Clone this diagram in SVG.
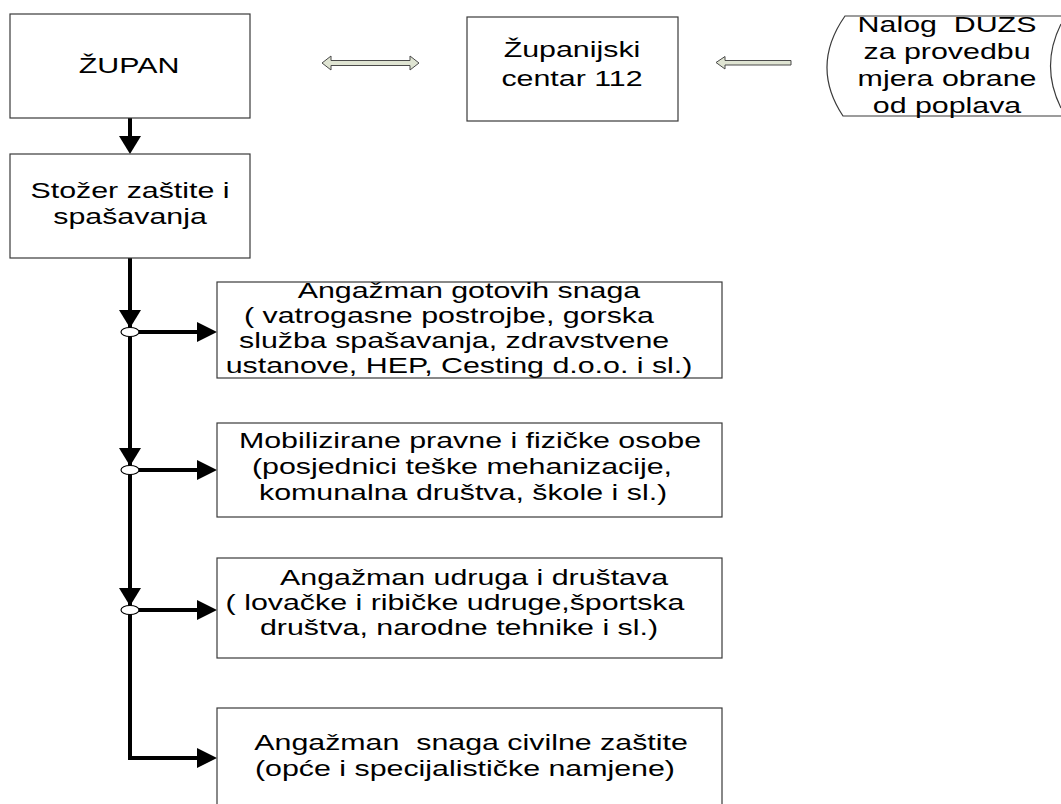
<svg xmlns="http://www.w3.org/2000/svg" width="1061" height="804" viewBox="0 0 1061 804">
<style>
  .box { fill: #ffffff; stroke: #3a3a3a; stroke-width: 1.2; }
  .t { font-family: "Liberation Sans", Arial, sans-serif; font-size: 22px; fill: #000; text-anchor: middle; white-space: pre; }
  .ln { fill: none; stroke: #000; stroke-width: 4; }
  .ah { fill: #000; stroke: none; }
  .jn { fill: #fff; stroke: #000; stroke-width: 1.2; }
  .bar { fill: #dfe4d2; stroke: #4a4a4a; stroke-width: 1; }
  .scroll { fill: none; stroke: #3a3a3a; stroke-width: 1.2; }
</style>
<rect width="1061" height="804" fill="#ffffff"/>

<g id="connectors">
  <line class="ln" x1="130" y1="118" x2="130" y2="138"/>
  <polygon class="ah" points="119,136 141,136 130,154"/>
  <polyline class="ln" points="130,258 130,758 199,758"/>
  <polygon class="ah" points="197,748 197,768 217,758"/>
  <!-- branch 1 -->
  <polygon class="ah" points="119,310 141,310 130,328"/>
  <line class="ln" x1="139" y1="332" x2="199" y2="332"/>
  <polygon class="ah" points="197,322 197,342 217,332"/>
  <ellipse class="jn" cx="130" cy="332" rx="9" ry="4.5"/>
  <!-- branch 2 -->
  <polygon class="ah" points="119,448 141,448 130,466"/>
  <line class="ln" x1="139" y1="470" x2="199" y2="470"/>
  <polygon class="ah" points="197,460 197,480 217,470"/>
  <ellipse class="jn" cx="130" cy="470" rx="9" ry="4.5"/>
  <!-- branch 3 -->
  <polygon class="ah" points="119,588 141,588 130,606"/>
  <line class="ln" x1="139" y1="610" x2="199" y2="610"/>
  <polygon class="ah" points="197,600 197,620 217,610"/>
  <ellipse class="jn" cx="130" cy="610" rx="9" ry="4.5"/>
  <!-- block arrows top -->
  <path class="bar" d="M322,63 L331,56 L331,60.5 L410,60.5 L410,56 L419,63 L410,70 L410,65.5 L331,65.5 L331,70 Z"/>
  <path class="bar" d="M716,62.5 L725,56.5 L725,60.5 L791,60.5 L791,65 L725,65 L725,69 Z"/>
</g>

<g id="zupan">
  <rect class="box" x="10" y="14" width="240" height="104"/>
  <text class="t" transform="translate(129,73) scale(1.38,1)">ŽUPAN</text>
</g>

<g id="centar112">
  <rect class="box" x="467" y="17" width="211" height="104"/>
  <text class="t" transform="translate(572,57) scale(1.38,1)"><tspan x="0" y="0">Županijski</tspan><tspan x="0" y="29">centar 112</tspan></text>
</g>

<g id="nalog">
  <path class="scroll" d="M1061,16 L845,16 Q810,66 843,116 L1061,116"/>
  <path class="scroll" d="M1061,24 Q1040,66 1061,108"/>
  <text class="t" transform="translate(947,32) scale(1.38,1)"><tspan x="0" y="0">Nalog  DUZS</tspan><tspan x="0" y="27">za provedbu</tspan><tspan x="0" y="54">mjera obrane</tspan><tspan x="0" y="81">od poplava</tspan></text>
</g>

<g id="stozer">
  <rect class="box" x="10" y="154" width="240" height="104"/>
  <text class="t" transform="translate(130,198) scale(1.38,1)"><tspan x="0" y="0">Stožer zaštite i</tspan><tspan x="0" y="26">spašavanja</tspan></text>
</g>

<g id="gotove-snage">
  <rect class="box" x="217" y="282" width="505" height="96"/>
  <text class="t" transform="translate(460,298) scale(1.38,1)"><tspan x="6.5" y="0">Angažman gotovih snaga</tspan><tspan x="-8" y="25">( vatrogasne postrojbe, gorska</tspan><tspan x="-4.3" y="50">služba spašavanja, zdravstvene</tspan><tspan x="-0.7" y="75">ustanove, HEP, Cesting d.o.o. i sl.)</tspan></text>
</g>

<g id="pravne-osobe">
  <rect class="box" x="217" y="423" width="505" height="94"/>
  <text class="t" transform="translate(465,448) scale(1.38,1)"><tspan x="3.6" y="0">Mobilizirane pravne i fizičke osobe</tspan><tspan x="-2.2" y="26">(posjednici teške mehanizacije,</tspan><tspan x="-1.4" y="52">komunalna društva, škole i sl.)</tspan></text>
</g>

<g id="udruge">
  <rect class="box" x="217" y="558" width="505" height="100"/>
  <text class="t" transform="translate(463,585) scale(1.38,1)"><tspan x="8" y="0">Angažman udruga i društava</tspan><tspan x="-5.8" y="25">( lovačke i ribičke udruge,športska</tspan><tspan x="-2.9" y="50">društva, narodne tehnike i sl.)</tspan></text>
</g>

<g id="civilna-zastita">
  <rect class="box" x="217" y="708" width="505" height="110"/>
  <text class="t" transform="translate(468,750) scale(1.38,1)"><tspan x="2.2" y="0">Angažman  snaga civilne zaštite</tspan><tspan x="-2.2" y="26">(opće i specijalističke namjene)</tspan></text>
</g>
</svg>
